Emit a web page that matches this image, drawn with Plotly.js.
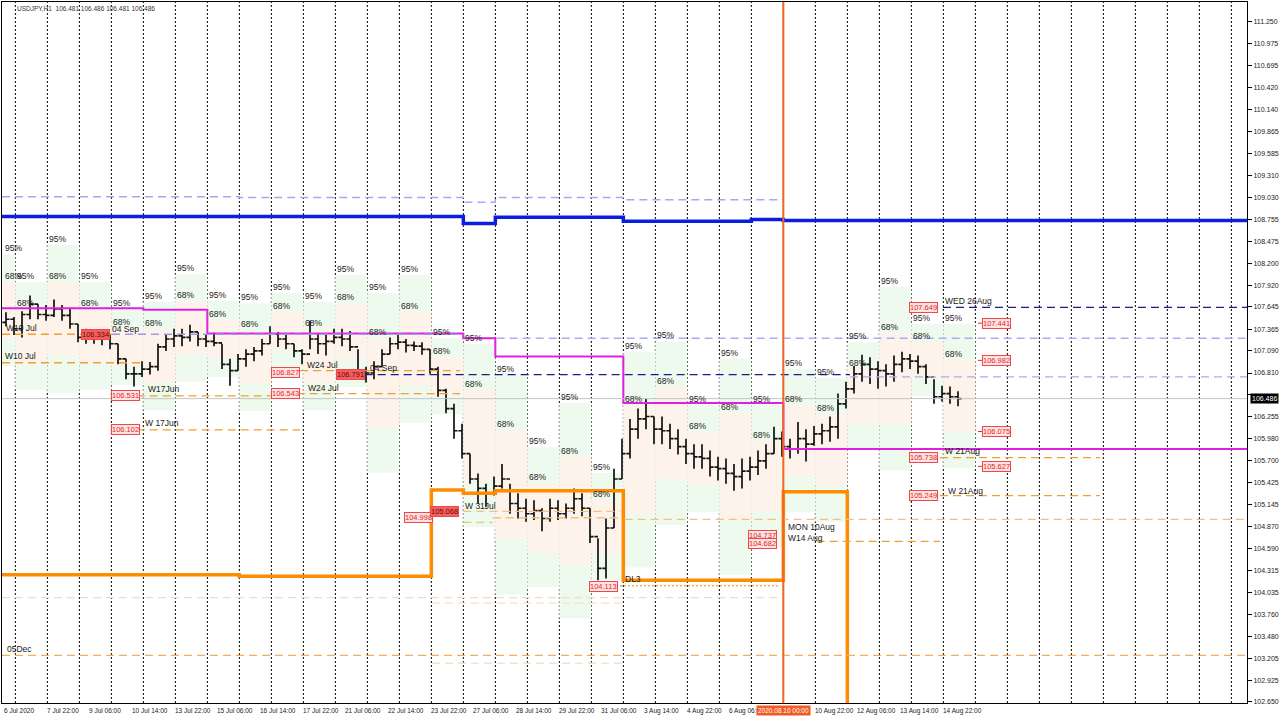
<!DOCTYPE html>
<html><head><meta charset="utf-8">
<script src="https://cdn.plot.ly/plotly-3.0.1.min.js"></script>
<style>html,body{margin:0;padding:0;background:#fff;overflow:hidden}#chart{width:1280px;height:720px}</style>
</head><body><div id="chart"></div>
<script>
// ---- Price bars (USDJPY H1, grouped 6 hours), x = hours since 6 Jul 2020 14:00 ----
const barHigh = [107.58,107.52,107.59,107.79,107.68,107.67,107.74,107.67,107.62,107.43,
107.37,107.34,107.33,107.30,107.18,106.99,106.89,106.96,106.95,107.18,
107.30,107.37,107.37,107.42,107.33,107.30,107.32,107.18,106.99,107.05,
107.11,107.14,107.24,107.40,107.33,107.29,107.18,107.11,107.47,107.30,
107.30,107.37,107.37,107.34,107.11,106.89,106.96,107.11,107.26,107.29,
107.24,107.21,107.20,107.11,106.89,106.61,106.42,106.17,105.79,105.54,
105.41,105.50,105.66,105.41,105.29,105.22,105.20,105.10,105.22,105.20,
105.16,105.35,105.29,105.10,104.72,104.97,105.60,105.98,106.23,106.36,
106.48,106.26,106.26,106.17,106.10,105.98,105.91,105.91,105.83,105.75,
105.73,105.66,105.73,105.75,105.83,105.91,106.13,106.07,105.98,106.19,
106.10,106.14,106.17,106.26,106.55,106.70,106.90,107.04,107.01,106.96,
106.92,107.03,107.08,107.05,107.03,106.92,106.73,106.65,106.64,106.58];
const barLow = [107.40,107.29,107.26,107.49,107.49,107.47,107.52,107.47,107.37,107.20,
107.18,107.18,107.16,107.11,106.92,106.73,106.64,106.76,106.79,106.84,
107.09,107.14,107.15,107.21,107.15,107.14,107.15,106.86,106.65,106.84,
106.89,106.96,107.03,107.18,107.14,107.11,107.01,106.92,107.11,107.05,
107.03,107.18,107.15,107.09,106.76,106.69,106.73,106.89,107.05,107.11,
107.07,107.09,107.04,106.80,106.51,106.30,105.98,105.73,105.41,105.16,
105.12,105.26,105.35,105.03,104.97,104.93,104.95,104.81,104.93,104.95,
104.97,105.03,105.00,104.66,104.19,104.21,104.85,105.47,105.73,105.98,
106.10,105.91,105.91,105.85,105.78,105.66,105.60,105.60,105.50,105.45,
105.41,105.32,105.35,105.45,105.52,105.60,105.79,105.75,105.73,105.79,
105.69,105.89,105.91,105.94,105.98,106.36,106.55,106.70,106.67,106.61,
106.64,106.70,106.82,106.86,106.80,106.67,106.42,106.45,106.42,106.39];
const barClose = [107.49,107.37,107.55,107.68,107.55,107.54,107.62,107.54,107.43,107.26,
107.26,107.24,107.26,107.18,106.99,106.80,106.80,106.86,106.89,107.14,
107.24,107.28,107.26,107.33,107.24,107.21,107.19,106.92,106.84,106.99,
107.05,107.09,107.18,107.30,107.24,107.18,107.09,107.05,107.24,107.18,
107.21,107.26,107.24,107.14,106.84,106.81,106.89,107.05,107.18,107.20,
107.16,107.15,107.11,106.86,106.59,106.36,106.08,105.79,105.47,105.35,
105.29,105.38,105.47,105.16,105.10,105.03,105.07,104.97,105.10,105.03,
105.10,105.22,105.10,104.74,104.34,104.85,105.47,105.79,106.10,106.23,
106.26,106.10,106.08,105.98,105.88,105.79,105.75,105.73,105.62,105.60,
105.54,105.50,105.57,105.62,105.70,105.79,105.98,105.88,105.85,105.98,
105.91,106.04,106.08,106.13,106.42,106.61,106.80,106.92,106.86,106.84,
106.80,106.92,106.99,106.96,106.89,106.76,106.51,106.55,106.51,106.486];
const firstOpen = 107.45;
const lastPrice = 106.486;

// ---- Daily probability zones (one per trading day) ----
const zone95Top = [108.31,107.96,108.43,107.96,107.62,107.71,108.06,107.72,107.69,107.82,107.71,108.05,107.82,108.05,107.25,107.18,106.79,105.87,106.43,105.55,107.08,107.21,106.41,106.99,106.41,106.86,106.75,107.20,107.90,107.43,107.43];
const zone68Top = [107.96,107.62,107.96,107.62,107.38,107.37,107.72,107.48,107.35,107.58,107.37,107.69,107.25,107.58,107.01,106.60,106.09,105.42,105.75,105.21,106.40,106.63,106.07,106.31,105.95,106.41,106.29,106.86,107.32,107.20,106.98];
const zone68Bot = [107.25,106.94,107.03,106.94,106.90,106.69,107.04,107.00,106.67,107.10,106.69,106.99,106.12,106.65,106.53,105.44,104.71,104.54,104.39,104.53,105.03,105.47,105.39,104.95,105.05,105.50,105.39,106.18,106.16,106.75,106.07];
const zone95Bot = [106.90,106.60,106.56,106.60,106.66,106.34,106.70,106.76,106.33,106.86,106.34,106.63,105.55,106.18,106.29,104.86,104.01,104.10,103.71,104.19,104.35,104.89,105.05,104.26,104.59,105.05,104.93,105.84,105.58,106.52,105.61];

// ---- Step levels (x = hours, y = price) ----
const blueX = [0,346,370,466,562,586,933.75];
const blueY = [108.79,108.70,108.78,108.73,108.75,108.74,108.74];
const lavTopX = [0,178,346,370,466,586];
const lavTopY = [109.04,109.03,108.97,109.03,109.00,109.00];
const orangeX = [0,178,322,346,370,466,586,634];
const orangeY = [104.26,104.24,105.33,105.29,105.32,104.19,105.31,102.0];
const magX = [0,106,154,346,370,466,586,933.75];
const magY = [107.63,107.61,107.31,107.25,107.02,106.43,105.85,105.85];

// ---- Dashed horizontal levels ----
const segStart = [0,82.5,0,101,101,223.5,221,272,636,371,346,368,346,467,611,703.5,703.5,705.75,0,0,448.5,322.5,322.5];
const segEnd   = [82.5,346,106,223.5,223.5,343.5,343.5,636,933.75,933.75,463.5,463.5,368,933.75,703.5,823.5,823.5,933.75,583.5,933.75,583.5,467,467];
const segPrice = [107.30,107.30,106.94,106.52,106.09,106.84,106.55,106.79,106.76,107.25,105.06,104.98,104.92,104.96,104.68,105.74,105.26,107.64,103.97,103.24,104.12,103.90,103.14];
const segColor = ['#f0a030','#9a9ae6','#f0a030','#f0a030','#f0a030','#f0a030','#f0a030','#1c1c90','#a8aef2','#a8aef2','#f3c080','#f3c080','#f3c080','#f3c080','#f0a030','#f0a030','#f0a030','#1c1c90','#f3dcc4','#f0b060','#f0b060','#f5e2cc','#f5e2cc'];
const segDash  = ['dash','dash','dash','dash','dash','dash','dash','dash','dash','dash','dash','dash','dash','dash','dash','dash','dash','dash','dash','dash','dot','dash','dash'];

// ---- Price tag labels ----
const tagText  = ['106.334','106.531','106.102','106.827','106.543','106.791','104.998','105.068','104.113','104.737','104.682','107.649','105.738','105.249','107.441','106.982','106.075','105.627'];
const tagHour  = [69.75,92.25,92.25,212.25,212.25,261,312,331.5,450.75,570,570,690.75,690.75,690.75,745.5,745.5,745.5,745.5];
const tagPrice = [107.30,106.52,106.09,106.82,106.55,106.79,104.98,105.06,104.11,104.76,104.65,107.64,105.74,105.26,107.44,106.97,106.07,105.63];
const tagDark  = [1,0,0,0,0,1,0,1,0,0,0,0,0,0,0,0,0,0];

// ---- Object texts ----
const noteText  = ['W10 Jul','04 Sep','W10 Jul','W17Jun','W 17Jun','W24 Jul','W24 Jul','04 Sep','W 31Jul','DL3','MON 10Aug','W14 Aug','W 21Aug','W 21Aug','WED 26Aug','05Dec'];
const noteHour  = [1.5,81,0.75,108,106,227,228,274.5,346,466,588,588,706,708,706,2.25];
const notePrice = [107.38,107.37,107.02,106.61,106.18,106.91,106.62,106.87,105.13,104.20,104.86,104.73,105.82,105.32,107.72,103.32];

// ---- Axes ----
const xLabelText = ['6 Jul 2020','7 Jul 22:00','9 Jul 06:00','10 Jul 14:00','13 Jul 22:00','15 Jul 06:00','16 Jul 14:00','17 Jul 22:00','21 Jul 06:00','22 Jul 14:00','23 Jul 22:00','27 Jul 06:00','28 Jul 14:00','29 Jul 22:00','31 Jul 06:00','3 Aug 14:00','4 Aug 22:00','6 Aug 06:00','10 Aug 22:00','12 Aug 06:00','13 Aug 14:00','14 Aug 22:00'];
const xLabelHour = [0,32,64,96,128,160,192,224,256,288,320,352,384,416,448,480,512,544,608,640,672,704];
const yTicks = [111.250,110.975,110.695,110.420,110.140,109.865,109.585,109.310,109.030,108.755,108.475,108.200,107.920,107.645,107.365,107.090,106.810,106.535,106.255,105.980,105.700,105.425,105.145,104.870,104.590,104.315,104.035,103.760,103.480,103.205,102.925,102.650];
const yTickHidden = 106.535; // covered by the current-price box
const daySepHour = [10,34,58,82,106,130,154,178,202,226,250,274,298,322,346,370,394,418,442,466,490,514,538,562,586,610,634,658,682,706,730,754,778,802,826,850,874,898,922];
const markerHour = 586;
const markerText = '2020.08.10 00:00';

const FONT = 'Liberation Sans, Arial, sans-serif';
const traces = [];
const shapes = [];
const ann = [];

// zones
const green = 'rgb(237,250,237)', peach = 'rgb(253,243,234)';
zone95Top.forEach((t,k)=>{
  const x0 = 24*k-14, x1 = 24*k+10;
  shapes.push({type:'rect',xref:'x',yref:'y',x0:x0,x1:x1,y0:zone95Bot[k],y1:t,fillcolor:green,line:{width:0},layer:'below'});
  shapes.push({type:'rect',xref:'x',yref:'y',x0:x0,x1:x1,y0:zone68Bot[k],y1:zone68Top[k],fillcolor:peach,line:{width:0},layer:'below'});
  const lx = k===0 ? 0.5 : x0;
  ann.push({x:lx,y:t,xref:'x',yref:'y',text:'95%',showarrow:false,xanchor:'left',yanchor:'bottom',font:{family:FONT,size:8.5,color:'#222'},yshift:-1});
  ann.push({x:lx,y:zone68Top[k],xref:'x',yref:'y',text:'68%',showarrow:false,xanchor:'left',yanchor:'bottom',font:{family:FONT,size:8.5,color:'#222'},yshift:-1});
});
// day separators
daySepHour.forEach(h=>shapes.push({type:'line',xref:'x',yref:'paper',x0:h,x1:h,y0:0,y1:1,line:{color:'#000',width:1,dash:'2px,2px'},layer:'below'}));
// dashed levels
segPrice.forEach((p,i)=>shapes.push({type:'line',xref:'x',yref:'y',x0:segStart[i],x1:segEnd[i],y0:p,y1:p,line:{color:segColor[i],width:1.3,dash:segDash[i]==='dot'?'2px,2px':'8px,5px'}}));
// current price line
shapes.push({type:'line',xref:'paper',yref:'y',x0:0,x1:1,y0:lastPrice,y1:lastPrice,line:{color:'#c4c4c4',width:1}});
// vertical marker
shapes.push({type:'line',xref:'x',yref:'paper',x0:markerHour,x1:markerHour,y0:0,y1:1,line:{color:'#f26522',width:2}});
// short red tag leaders on the right
[14,15,16,17].forEach(i=>shapes.push({type:'line',xref:'x',yref:'y',x0:732,x1:737,y0:tagPrice[i],y1:tagPrice[i],line:{color:'#e03030',width:1}}));

// step lines
traces.push({x:lavTopX,y:lavTopY,type:'scatter',mode:'lines',line:{shape:'hv',color:'#a4aaf0',width:1.5,dash:'8px,5px'},hoverinfo:'skip'});
traces.push({x:blueX,y:blueY,type:'scatter',mode:'lines',line:{shape:'hv',color:'#0a1ee0',width:3.5},hoverinfo:'skip'});
traces.push({x:magX,y:magY,type:'scatter',mode:'lines',line:{shape:'hv',color:'#e020e0',width:2},hoverinfo:'skip'});
traces.push({x:orangeX,y:orangeY,type:'scatter',mode:'lines',line:{shape:'hv',color:'#ff8c00',width:3.5},hoverinfo:'skip'});

// price bars
const barHour = barClose.map((_,i)=>3+6*i);
const barOpen = [firstOpen].concat(barClose.slice(0,-1));
traces.push({type:'ohlc',x:barHour,open:barOpen,high:barHigh,low:barLow,close:barClose,
  increasing:{line:{color:'#111',width:1.7}},decreasing:{line:{color:'#111',width:1.7}},tickwidth:0.45,hoverinfo:'skip'});

// price tags
tagText.forEach((t,i)=>ann.push({x:tagHour[i],y:tagPrice[i],xref:'x',yref:'y',text:t,showarrow:false,xanchor:'center',yanchor:'middle',
  font:{family:FONT,size:7.5,color:tagDark[i]?'#7a0000':'#e02828'},bgcolor:tagDark[i]?'#f06060':'#ffe2e2',bordercolor:'#f04848',borderwidth:1,borderpad:0}));
// notes
noteText.forEach((t,i)=>ann.push({x:noteHour[i],y:notePrice[i],xref:'x',yref:'y',text:t,showarrow:false,xanchor:'left',yanchor:'middle',font:{family:FONT,size:8.5,color:'#1a1a1a'}}));
// x labels
xLabelText.forEach((t,i)=>ann.push({x:xLabelHour[i],y:0,xref:'x',yref:'paper',text:t,showarrow:false,xanchor:'left',yanchor:'top',yshift:-2,font:{family:FONT,size:6.5,color:'#222'}}));
// marker label
ann.push({x:markerHour,y:0,xref:'x',yref:'paper',text:markerText,showarrow:false,xanchor:'center',yanchor:'top',yshift:-2,bgcolor:'#f05a24',borderpad:1,font:{family:FONT,size:6.5,color:'#fff'}});
// current price box
ann.push({x:1,y:lastPrice,xref:'paper',yref:'y',text:lastPrice.toFixed(3),showarrow:false,xanchor:'left',yanchor:'middle',xshift:3,bgcolor:'#000',borderpad:1,font:{family:FONT,size:7,color:'#fff'}});
// header
ann.push({x:13/1245,y:1,xref:'paper',yref:'paper',text:'USDJPY,H1  106.481 106.486 106.481 106.486',showarrow:false,xanchor:'left',yanchor:'top',yshift:-1,font:{family:FONT,size:6.5,color:'#333'}});

const layout = {
  width:1280,height:720,margin:{l:2,r:33,t:2,b:17},paper_bgcolor:'#fff',plot_bgcolor:'#fff',showlegend:false,
  xaxis:{range:[0,933.75],showgrid:false,zeroline:false,showticklabels:false,ticks:'',showline:true,linecolor:'#000',linewidth:1,mirror:true,rangeslider:{visible:false},fixedrange:true},
  yaxis:{side:'right',range:[102.637,111.502],tickvals:yTicks,ticktext:yTicks.map(v=>v===yTickHidden?'':v.toFixed(3)),ticks:'outside',ticklen:4,tickcolor:'#000',
    showgrid:false,zeroline:false,showline:true,linecolor:'#000',linewidth:1,mirror:true,tickfont:{family:FONT,size:7,color:'#222'},fixedrange:true},
  shapes:shapes,annotations:ann
};
Plotly.newPlot('chart',traces,layout,{staticPlot:true,displayModeBar:false});
</script></body></html>
